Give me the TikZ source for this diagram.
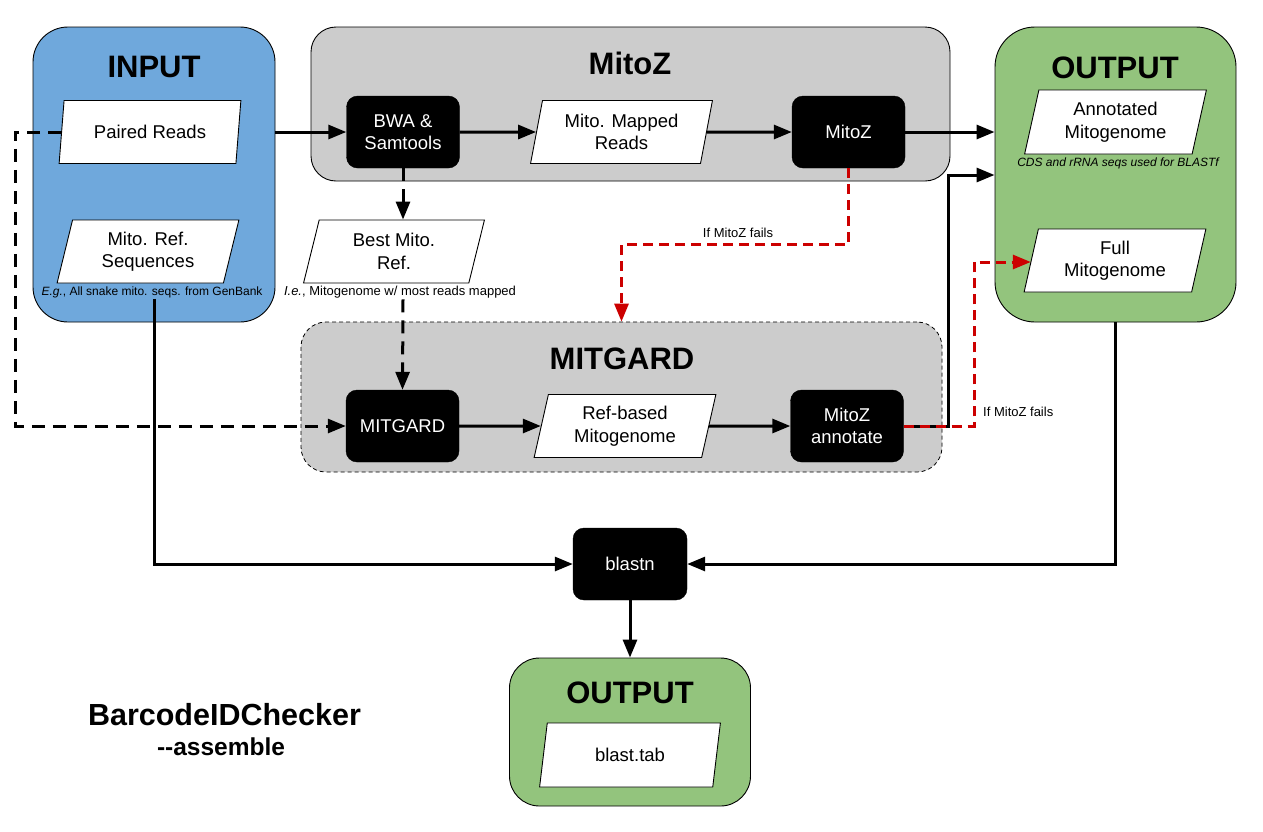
\documentclass[tikz,border=0pt]{standalone}
\usepackage{fontspec}
\setmainfont{Liberation Sans}
\usetikzlibrary{shapes.geometric,arrows.meta,calc}
\definecolor{inblue}{HTML}{6FA8DC}
\definecolor{outgreen}{HTML}{93C47D}
\definecolor{boxgray}{HTML}{CCCCCC}
\definecolor{failred}{HTML}{CC0000}
\newcommand{\ttlfont}{\fontsize{31}{36}\selectfont\bfseries}
\newcommand{\bxfont}{\fontsize{18.5}{22.5}\selectfont}
\newcommand{\ntfont}{\fontsize{12}{14}\selectfont}
\tikzset{
  cont/.style={rectangle, draw=black, line width=0.9pt, rounded corners=#1, inner sep=0pt},
  para/.style={trapezium, trapezium left angle=76.6, trapezium right angle=103.4,
    trapezium stretches=true, draw=black, line width=0.9pt, fill=white,
    minimum width=182pt, minimum height=63pt, inner sep=0pt, align=center, font=\bxfont},
  blk/.style={rectangle, rounded corners=11pt, fill=black, draw=black, text=white,
    minimum width=113pt, minimum height=72pt, inner sep=0pt, align=center, font=\bxfont},
  ttl/.style={font=\ttlfont, inner sep=0pt},
  note/.style={font=\ntfont, inner sep=1pt},
  arr/.style={line width=3pt, -{Triangle[length=18pt,width=14pt]}},
  darr/.style={arr, dash pattern=on 13pt off 8pt},
  rarr/.style={arr, draw=failred, -{Triangle[length=18pt,width=14pt,fill=failred]}, dash pattern=on 10pt off 6pt},
}
\begin{document}
\begin{tikzpicture}[x=1pt,y=-1pt]
\fill[white] (0,0) rectangle (1263,831);
\useasboundingbox (0,0) rectangle (1263,831);

% containers
\node[cont=35, fill=inblue, minimum width=242pt, minimum height=295pt] (input) at (154,174.5) {};
\node[cont=25, fill=boxgray, minimum width=639pt, minimum height=154pt] (mitozc) at (630.5,104) {};
\node[cont=40, fill=outgreen, minimum width=241pt, minimum height=295pt] (outtop) at (1115.5,174.5) {};
\node[cont=25, fill=boxgray, line width=0.8pt, dash pattern=on 4pt off 3pt, minimum width=641pt, minimum height=150pt] (mitgardc) at (621.5,397) {};
\node[cont=30, fill=outgreen, minimum width=241pt, minimum height=148pt] (outbot) at (630,732) {};

% titles
\node[ttl] (tin) at (154,67) {INPUT};
\node[ttl] (tmz) at (630,63) {MitoZ};
\node[ttl] (tout) at (1115,67.5) {OUTPUT};
\node[ttl] (tmg) at (622,358.5) {MITGARD};
\node[ttl] (tout2) at (630,693) {OUTPUT};

% data nodes
\node[para] (pr) at (150,132) {Paired Reads};
\node[para] (mrs) at (148,251.5) {Mito. Ref.\\Sequences};
\node[para] (bmr) at (394,251.5) {Best Mito.\\Ref.};
\node[para] (mmr) at (621.5,132) {Mito. Mapped\\Reads};
\node[para, minimum height=64pt] (anno) at (1115.5,122) {Annotated\\Mitogenome};
\node[para] (full) at (1115,260.5) {Full\\Mitogenome};
\node[para] (refb) at (625,426) {Ref-based\\Mitogenome};
\node[para, minimum height=64pt] (btab) at (630,755) {blast.tab};

% process nodes
\node[blk] (bwa) at (403,132) {BWA \&\\Samtools};
\node[blk] (mitoz) at (848.5,132) {MitoZ};
\node[blk] (mitgard) at (402.5,426) {MITGARD};
\node[blk] (annot) at (847,426) {MitoZ\\annotate};
\node[blk, minimum width=114pt] (blastn) at (630,564) {blastn};

% notes
\node[note] (mrsnote) at (152,292) {\textit{E.g.}, All snake mito. seqs. from GenBank};
\node[note, font=\fontsize{13}{15}\selectfont] (bmrnote) at (400,292) {\textit{I.e.}, Mitogenome w/ most reads mapped};
\node[note, font=\ntfont\itshape] (cdsnote) at (1118,163) {CDS and rRNA seqs used for BLASTf};
\node[note, font=\fontsize{13}{15}\selectfont] (fail1) at (738,233) {If MitoZ fails};
\node[note, font=\fontsize{13}{15}\selectfont, anchor=west] (fail2) at (982,412) {If MitoZ fails};

\node[font=\fontsize{30.5}{34}\selectfont\bfseries, inner sep=0pt] (bc) at (224.5,714.5) {BarcodeIDChecker};
\node[font=\fontsize{24.5}{28}\selectfont\bfseries, inner sep=0pt] (asm) at (221,746.5) {-{}-assemble};

% connectors
\draw[arr] (bwa.west -| input.east) -- (bwa.west);
\draw[arr] (bwa.east) -- (mmr.west);
\draw[arr] (mmr.east) -- (mitoz.west);
\draw[arr] (mitoz.east) -- (mitoz.east -| outtop.west);
\draw[arr] (mitgard.east) -- (refb.west);
\draw[arr] (refb.east) -- (annot.west);

\coordinate (lft) at (15,0);
\draw[darr] (pr.west) -- (pr.west -| lft) |- (mitgard.west);
\draw[darr] (bwa.south) -- (bwa.south |- bmr.north);
\draw[darr] (bwa.south |- bmrnote.south) -- (mitgard.north);

\draw[rarr] (mitoz.south) -- ++(0,76) -| (mitgardc.north);

\coordinate (j1) at (948,175);
\draw[arr] (annot.east) -| (j1) -- (j1 -| outtop.west);
\coordinate (j2) at (974,262);
\draw[rarr] (annot.east) -| (j2) -- (j2 -| full.west);

\draw[arr] (outtop.south) |- (blastn.east);
\draw[arr] ($(mrsnote.south)+(2,0)$) |- (blastn.west);
\draw[arr] (blastn.south) -- (outbot.north);
\end{tikzpicture}
\end{document}
